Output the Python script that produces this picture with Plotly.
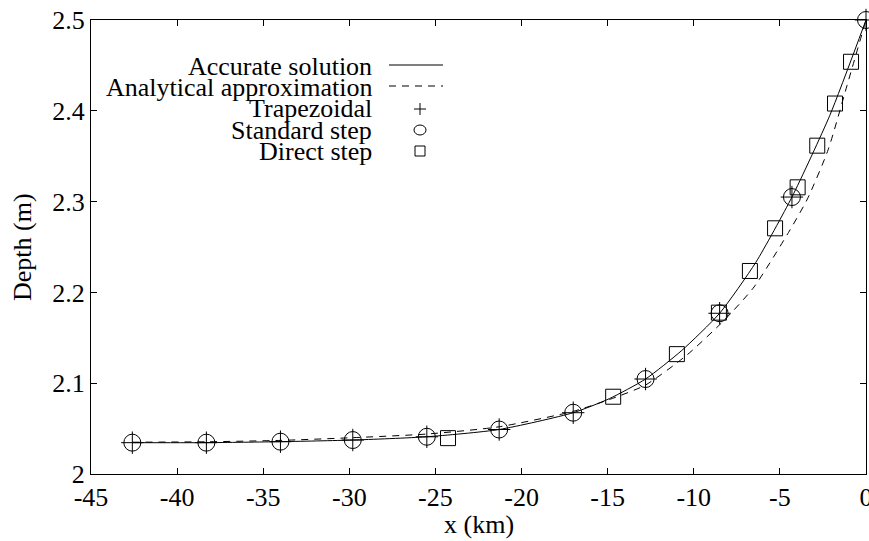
import plotly.graph_objects as go

# ---- data ----
x_acc = [-42.6, -38.3, -34.0, -29.8, -25.5, -21.3, -17.0, -14.9, -12.8, -10.7, -8.5, -6.4, -4.3, -2.1, 0.0]
d_acc = [2.0345, 2.0345, 2.0356, 2.0374, 2.041, 2.049, 2.0675, 2.083, 2.1046, 2.136, 2.177, 2.233, 2.305, 2.395, 2.5]

x_ana = [-42.6, -38.3, -34.0, -29.8, -25.5, -21.3, -17.0, -14.9, -12.8, -10.4, -8.2, -6.5, -4.5, -3.4, -2.2, -1.1, 0.0]
d_ana = [2.035, 2.0355, 2.037, 2.040, 2.044, 2.052, 2.069, 2.082, 2.098, 2.131, 2.170, 2.206, 2.266, 2.303, 2.357, 2.428, 2.5]

x_trap = [-42.6, -38.3, -34.0, -29.8, -25.5, -21.3, -17.0, -12.8, -8.5, -4.3, 0.0]
d_trap = [2.0345, 2.0345, 2.0356, 2.0374, 2.041, 2.049, 2.0675, 2.1046, 2.177, 2.305, 2.5]

x_std = [-42.6, -38.3, -34.0, -29.8, -25.5, -21.3, -17.0, -12.8, -8.5, -4.3, 0.0]
d_std = [2.0345, 2.0345, 2.0356, 2.0374, 2.041, 2.049, 2.0675, 2.1046, 2.177, 2.305, 2.5]

x_dir = [-0.87, -1.80, -2.83, -3.97, -5.28, -6.74, -8.54, -10.98, -14.68, -24.27]
d_dir = [2.454, 2.408, 2.3616, 2.3157, 2.2706, 2.2236, 2.1777, 2.132, 2.0851, 2.0395]

x_ticks = [-45, -40, -35, -30, -25, -20, -15, -10, -5, 0]
x_tick_labels = ["-45", "-40", "-35", "-30", "-25", "-20", "-15", "-10", "-5", "0"]
y_ticks = [2.0, 2.1, 2.2, 2.3, 2.4, 2.5]
y_tick_labels = ["2", "2.1", "2.2", "2.3", "2.4", "2.5"]

legend_names = ["Accurate solution", "Analytical approximation", "Trapezoidal", "Standard step", "Direct step"]

# ---- layout geometry ----
W, H = 869, 541
L, R, T, B = 91, 866, 20, 474
FONT = "Liberation Serif, Times New Roman, serif"
FS = 26


def px(xp):
    return (xp - L) / (R - L)


def py(yp):
    return (B - yp) / (B - T)


fig = go.Figure()
fig.add_trace(go.Scatter(x=x_acc, y=d_acc, mode="lines", name=legend_names[0],
                         line=dict(color="black", width=1, shape="spline", smoothing=0.6)))
fig.add_trace(go.Scatter(x=x_ana, y=d_ana, mode="lines", name=legend_names[1],
                         line=dict(color="black", width=1, dash="7px,6px", shape="spline", smoothing=0.6)))
fig.add_trace(go.Scatter(x=x_trap, y=d_trap, mode="markers", name=legend_names[2], cliponaxis=False,
                         marker=dict(symbol="cross-thin-open", size=16, color="black",
                                     line=dict(color="black", width=1))))
fig.add_trace(go.Scatter(x=x_std, y=d_std, mode="markers", name=legend_names[3], cliponaxis=False,
                         marker=dict(symbol="circle-open", size=17, color="black",
                                     line=dict(color="black", width=1))))
fig.add_trace(go.Scatter(x=x_dir, y=d_dir, mode="markers", name=legend_names[4], cliponaxis=False,
                         marker=dict(symbol="square-open", size=15, color="black",
                                     line=dict(color="black", width=1))))

axis_common = dict(ticks="inside", ticklen=6, tickwidth=1, tickcolor="black",
                   showline=True, linecolor="black", linewidth=1, mirror="ticks",
                   showgrid=False, zeroline=False, ticklabeloverflow="allow", automargin=False,
                   tickfont=dict(family=FONT, size=FS, color="black"))

fig.update_layout(
    width=W, height=H,
    margin=dict(l=L, r=W - R, t=T, b=H - B, autoexpand=False),
    paper_bgcolor="white", plot_bgcolor="white",
    showlegend=False,
    xaxis=dict(range=[-45, 0], tickvals=x_ticks, ticktext=x_tick_labels, **axis_common),
    yaxis=dict(range=[2, 2.5], tickvals=y_ticks, ticktext=y_tick_labels, **axis_common),
)

annotations = [
    dict(text="x (km)", xref="paper", yref="paper", x=0.5, y=0, xanchor="center", yanchor="middle",
         yshift=-(524 - B), showarrow=False, font=dict(family=FONT, size=FS, color="black")),
    dict(text="Depth (m)", xref="paper", yref="paper", x=0, y=0.5, xanchor="center", yanchor="middle",
         xshift=22 - L, textangle=-90, showarrow=False, font=dict(family=FONT, size=FS, color="black")),
]

# custom legend (text right-aligned, key on the right)
rows = [66, 87, 109, 130, 151]
text_right = 374
for name, ry in zip(legend_names, rows):
    annotations.append(dict(text=name, xref="paper", yref="paper", x=px(text_right), y=py(ry),
                            xanchor="right", yanchor="middle", showarrow=False,
                            font=dict(family=FONT, size=FS, color="black")))

shapes = []
kx0, kx1, kc = 389, 443, 420
shapes.append(dict(type="line", xref="paper", yref="paper", x0=px(kx0), x1=px(kx1),
                   y0=py(rows[0] - 1), y1=py(rows[0] - 1), line=dict(color="black", width=1)))
shapes.append(dict(type="line", xref="paper", yref="paper", x0=px(kx0), x1=px(kx1),
                   y0=py(rows[1] - 1), y1=py(rows[1] - 1), line=dict(color="black", width=1, dash="7px,6px")))
# plus key
shapes.append(dict(type="line", xref="paper", yref="paper", x0=px(kc - 6), x1=px(kc + 6),
                   y0=py(rows[2]), y1=py(rows[2]), line=dict(color="black", width=1)))
shapes.append(dict(type="line", xref="paper", yref="paper", x0=px(kc), x1=px(kc),
                   y0=py(rows[2] - 6), y1=py(rows[2] + 6), line=dict(color="black", width=1)))
# circle key
shapes.append(dict(type="circle", xref="paper", yref="paper", x0=px(kc - 6), x1=px(kc + 6),
                   y0=py(rows[3] - 5), y1=py(rows[3] + 5), line=dict(color="black", width=1)))
# square key
shapes.append(dict(type="rect", xref="paper", yref="paper", x0=px(kc - 5), x1=px(kc + 5),
                   y0=py(rows[4] - 5), y1=py(rows[4] + 5), line=dict(color="black", width=1)))

fig.update_layout(annotations=annotations, shapes=shapes)

fig.write_html("out.html", config={"displayModeBar": False},
               post_script="document.body.style.margin='0px';")
